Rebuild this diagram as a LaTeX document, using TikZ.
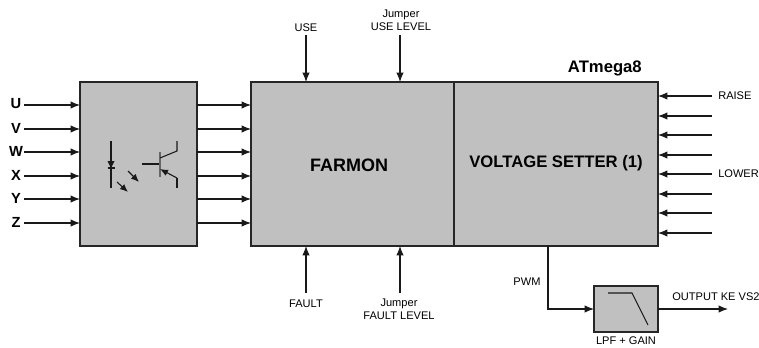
\documentclass[tikz,border=0pt]{standalone}
\usepackage{fontspec}
\setmainfont{Liberation Sans}
\usetikzlibrary{arrows.meta}
\definecolor{blockgray}{HTML}{C0C0C0}
\tikzset{
  blockbox/.style={draw=black!85,fill=blockgray,line width=0.8pt,inner sep=0pt,outer sep=0pt},
  sig/.style={draw=black!90,line width=0.8pt,-{Latex[length=7pt,width=5.5pt]}},
  wire/.style={draw=black!90,line width=0.8pt},
  pinlabel/.style={font=\bfseries\fontsize{11}{12}\selectfont,inner sep=0pt},
  smalllabel/.style={font=\fontsize{8.3}{9}\selectfont,inner sep=0pt},
  titlelabel/.style={font=\bfseries\fontsize{12.5}{14}\selectfont,inner sep=0pt}
}
\begin{document}
\begin{tikzpicture}[x=0.75pt,y=-0.75pt]
\useasboundingbox (0,0) rectangle (759,347);
% blocks
\node[blockbox,minimum width=87.75pt,minimum height=123pt] (opto) at (138.5,164) {};
\node[blockbox,minimum width=152.25pt,minimum height=123pt] (farmon) at (352.5,164) {};
\node[blockbox,minimum width=153pt,minimum height=123pt] (setter) at (556,164) {};
\node[blockbox,minimum width=48pt,minimum height=34.5pt] (lpf) at (626,309) {};
\node[titlelabel,font=\bfseries\fontsize{13.5}{15}\selectfont] (farmonText) at (349,165) {FARMON};
\node[titlelabel] (setterText) at (556,163) {VOLTAGE SETTER (1)};
\node[titlelabel,anchor=east] (atmega) at (642,68) {ATmega8};
% phase inputs, opto to farmon
\foreach \name/\yy in {U/105,V/129,W/152,X/176,Y/199,Z/223}{
  \node[pinlabel] (lbl\name) at (16,\yy-1) {\name};
  \coordinate (start\name) at (24,\yy);
  \draw[sig] (start\name) -- (start\name -| opto.west);
  \draw[sig] (start\name -| opto.east) -- (start\name -| farmon.west);
}
% setter inputs
\foreach \name/\yy in {a/96,b/116,c/135,d/155,e/174,f/194,g/213,h/233}{
  \coordinate (in\name) at (712,\yy);
  \draw[sig] (in\name) -- (in\name -| setter.east);
}
\node[smalllabel,anchor=west] (raise) at (718,96) {RAISE};
\node[smalllabel,anchor=west] (lower) at (718,174) {LOWER};
% top and bottom
\coordinate (useIn) at (306,35);
\coordinate (levelIn) at (400,35);
\coordinate (faultIn) at (306,293);
\coordinate (faultLevelIn) at (400,293);
\draw[sig] (useIn) -- (useIn |- farmon.north);
\draw[sig] (levelIn) -- (levelIn |- farmon.north);
\draw[sig] (faultIn) -- (faultIn |- farmon.south);
\draw[sig] (faultLevelIn) -- (faultLevelIn |- farmon.south);
\node[smalllabel] (use) at (306,28) {USE};
\node[smalllabel] (jumpA) at (401,14.5) {Jumper};
\node[smalllabel] (uselevel) at (401,27) {USE LEVEL};
\node[smalllabel] (fault) at (306,304) {FAULT};
\node[smalllabel] (jumpB) at (399,304) {Jumper};
\node[smalllabel] (faultlevel) at (399,316) {FAULT LEVEL};
% pwm and output
\coordinate (pwmOut) at (548,246);
\coordinate (outEnd) at (728,309);
\draw[sig] (pwmOut) |- (lpf.west);
\draw[sig] (lpf.east) -- (outEnd);
\node[smalllabel] (pwm) at (527,282) {PWM};
\node[smalllabel,anchor=west] (output) at (672,297) {OUTPUT KE VS2};
\node[smalllabel] (gain) at (626,340.5) {LPF + GAIN};
% filter curve
\draw[wire] (608,293) -- (632,293) -- (648,325);
% optocoupler
\draw[wire] (111,141) -- (111,188);
\fill[black!90] (107.5,161) -- (114.5,161) -- (111,168) -- cycle;
\draw[wire] (107.5,168) -- (114.5,168);
\draw[sig,-{Latex[length=6pt,width=5pt]}] (117,182) -- (128,192);
\draw[sig,-{Latex[length=6pt,width=5pt]}] (128,171) -- (139,182);
\draw[wire] (142,164) -- (160,164);
\draw[draw=black!60,line width=1.2pt] (160,152) -- (160,177);
\draw[wire] (160,158) -- (177,151) -- (177,141);
\draw[wire] (177,188) -- (177,178);
\draw[sig,-{Latex[length=6pt,width=5pt]}] (177,178) -- (160,169);
\end{tikzpicture}
\end{document}
